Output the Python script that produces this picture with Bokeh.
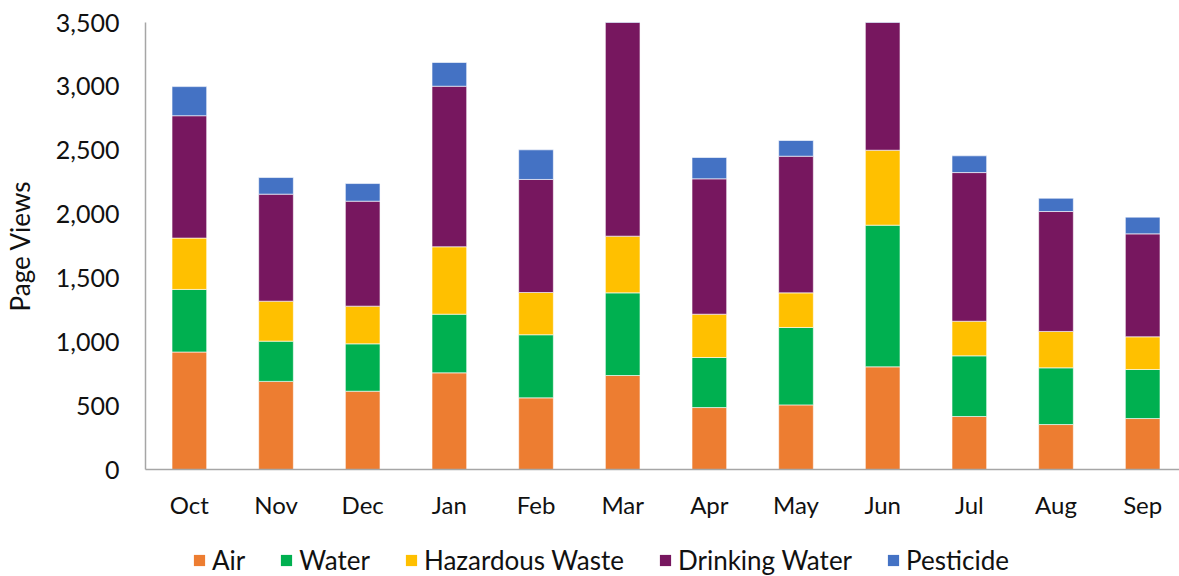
from bokeh.plotting import figure
from bokeh.layouts import column
from bokeh.models import (Range1d, FixedTicker, NumeralTickFormatter, Legend,
                          LegendItem, ColumnDataSource)
from bokeh.embed import file_html
from bokeh.resources import INLINE

months = ["Oct", "Nov", "Dec", "Jan", "Feb", "Mar", "Apr", "May", "Jun", "Jul", "Aug", "Sep"]
series_names = ["Air", "Water", "Hazardous Waste", "Drinking Water", "Pesticide"]
air = [920, 690, 613, 757, 561, 736, 485, 506, 804, 415, 352, 399]
water = [490, 315, 371, 459, 494, 647, 392, 606, 1109, 475, 444, 384]
hazardous_waste = [402, 313, 295, 528, 331, 444, 339, 271, 587, 271, 285, 256]
drinking_water = [958, 838, 822, 1257, 885, 1800, 1060, 1070, 1150, 1164, 939, 806]
pesticide = [228, 130, 138, 186, 232, 210, 167, 123, 160, 131, 104, 131]
y_ticks = [0, 500, 1000, 1500, 2000, 2500, 3000, 3500]

colors = ["#ED7D31", "#00B050", "#FFC000", "#77175F", "#4472C4"]
FONT = "Lato"
TEXT = "#111111"

xs = list(range(len(months)))
keys = ["air", "water", "haz", "drink", "pest"]
source = ColumnDataSource(dict(x=xs, air=air, water=water, haz=hazardous_waste,
                               drink=drinking_water, pest=pesticide))

p = figure(width=1179, height=530, output_backend="svg", toolbar_location=None,
           x_range=Range1d(-0.506, 11.425), y_range=Range1d(0, 3500),
           min_border_left=141, min_border_right=0, min_border_top=22,
           min_border_bottom=61)
p.outline_line_color = None
p.xgrid.grid_line_color = None
p.ygrid.grid_line_color = None

renderers = p.vbar_stack(keys, x="x", width=0.40, color=colors, source=source,
                         line_color="white", line_width=0.6)

# axes
p.yaxis.ticker = FixedTicker(ticks=y_ticks)
p.yaxis.formatter = NumeralTickFormatter(format="0,0")
p.xaxis.ticker = FixedTicker(ticks=xs)
p.xaxis.major_label_overrides = {i: m for i, m in enumerate(months)}
for ax in (p.xaxis[0], p.yaxis[0]):
    ax.axis_line_color = "#A6A6A6"
    ax.axis_line_width = 1.5
    ax.major_tick_line_color = None
    ax.minor_tick_line_color = None
    ax.major_tick_out = 0
    ax.major_tick_in = 0
    ax.major_label_text_font = FONT
    ax.major_label_text_color = TEXT
p.xaxis.major_label_text_font_size = "24px"
p.yaxis.major_label_text_font_size = "25px"
p.xaxis.major_label_standoff = 20
p.yaxis.major_label_standoff = 26
p.yaxis.axis_label = "Page Views"
p.yaxis.axis_label_text_font = FONT
p.yaxis.axis_label_text_font_size = "26px"
p.yaxis.axis_label_text_font_style = "normal"
p.yaxis.axis_label_text_color = TEXT
p.yaxis.axis_label_standoff = 17

# legend strip below the chart (its frame is aligned with the chart's frame)
lg = figure(width=1179, height=46, output_backend="svg", toolbar_location=None,
            x_range=Range1d(0, 1), y_range=Range1d(0, 1),
            min_border_left=141, min_border_right=0, min_border_top=0,
            min_border_bottom=0)
lg.axis.visible = False
lg.xgrid.grid_line_color = None
lg.ygrid.grid_line_color = None
lg.outline_line_color = None
# zero-height legend proxies (nothing visible is drawn by them)
proxy = ColumnDataSource(dict(x=[0], top=[0]))
legend_rs = [lg.vbar(x="x", top="top", bottom="top", width=0.0, source=proxy,
                     fill_color=c, line_color=None) for c in colors]

legend = Legend(items=[LegendItem(label=n, renderers=[r]) for n, r in zip(series_names, legend_rs)],
                orientation="horizontal", location=(47, 0), padding=2, margin=0,
                spacing=34, glyph_width=14, glyph_height=14, label_standoff=6,
                label_height=24, label_text_font=FONT, label_text_font_size="26px",
                label_text_color=TEXT, border_line_color=None,
                background_fill_alpha=0)
lg.add_layout(legend, "center")

layout = column(p, lg, spacing=0)
open("out.html", "w").write(file_html(layout, INLINE))
